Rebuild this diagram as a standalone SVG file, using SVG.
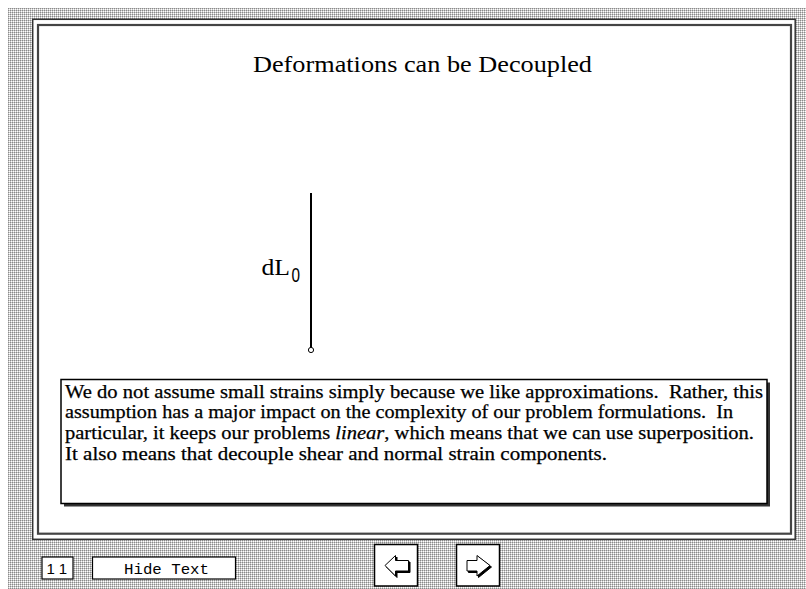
<svg xmlns="http://www.w3.org/2000/svg" width="806" height="589" viewBox="0 0 806 589">
  <defs>
    <pattern id="dots" x="0" y="0" width="2" height="2" patternUnits="userSpaceOnUse">
      <rect width="2" height="2" fill="#c8c8c8"/>
      <rect x="0" y="0" width="1" height="1" fill="#8a8a8a"/>
      <rect x="1" y="1" width="1" height="1" fill="#ffffff"/>
    </pattern>
    <style>
      .serif { font-family: "Liberation Serif", "Times New Roman", serif; fill: #000; }
      .body { font-size: 18px; stroke: #000; stroke-width: 0.25px; }
      .btn { fill: #fff; stroke: #000; stroke-width: 1.5; }
      .arrow { fill: #fff; stroke: #000; stroke-width: 1; stroke-linejoin: miter; }
      .arrowShadow { fill: #000; stroke: #000; stroke-width: 1; }
    </style>
  </defs>

  <rect x="0" y="0" width="806" height="589" fill="#fff"/>
  <rect x="8" y="8" width="798" height="581" fill="url(#dots)"/>

  <g id="frame">
    <rect x="32.7" y="19.3" width="762.5" height="520" fill="#fff" stroke="#333" stroke-width="1.5"/>
    <rect x="38" y="25" width="753" height="508.7" fill="#fff" stroke="#444" stroke-width="2.2"/>
  </g>

  <g id="title">
    <text class="serif" x="253" y="72" font-size="23" textLength="339" lengthAdjust="spacingAndGlyphs">Deformations can be Decoupled</text>
  </g>

  <g id="element">
    <line x1="311" y1="193" x2="311" y2="347.5" stroke="#000" stroke-width="2"/>
    <circle cx="311" cy="350" r="2.6" fill="#fff" stroke="#000" stroke-width="1"/>
  </g>

  <g id="label-dL0">
    <text class="serif" x="261.5" y="275" font-size="23" textLength="28.5" lengthAdjust="spacingAndGlyphs">dL</text>
    <text x="291.5" y="281.7" font-family="Liberation Sans, Arial, sans-serif" font-size="20" font-weight="normal" textLength="8.5" lengthAdjust="spacingAndGlyphs">0</text>
  </g>

  <g id="textbox">
    <rect x="64" y="382.5" width="706" height="124" fill="#333"/>
    <rect x="61" y="379.5" width="706" height="124" fill="#fff" stroke="#000" stroke-width="1.5"/>
    <text class="serif body" x="65" y="397.5" xml:space="preserve" textLength="698" lengthAdjust="spacingAndGlyphs">We do not assume small strains simply because we like approximations.  Rather, this</text>
    <text class="serif body" x="65" y="418.2" xml:space="preserve" textLength="668" lengthAdjust="spacingAndGlyphs">assumption has a major impact on the complexity of our problem formulations.  In</text>
    <text class="serif body" x="65" y="438.9" xml:space="preserve" textLength="689" lengthAdjust="spacingAndGlyphs">particular, it keeps our problems <tspan font-style="italic">linear</tspan>, which means that we can use superposition.</text>
    <text class="serif body" x="65" y="459.6" xml:space="preserve" textLength="542" lengthAdjust="spacingAndGlyphs">It also means that decouple shear and normal strain components.</text>
  </g>

  <g id="page-number">
    <rect x="42" y="557" width="31" height="22" fill="#fff" stroke="#000" stroke-width="1.2"/>
    <text x="46.5" y="574" font-family="Liberation Sans, Arial, sans-serif" font-size="15" textLength="20.5" lengthAdjust="spacing">11</text>
  </g>

  <g id="hide-text-button">
    <rect x="92.5" y="557" width="143" height="22" fill="#fff" stroke="#000" stroke-width="1.2"/>
    <text x="124" y="574" font-family="Liberation Mono, Courier New, monospace" font-size="15" textLength="85" lengthAdjust="spacingAndGlyphs">Hide Text</text>
  </g>

  <g id="prev-button">
    <rect class="btn" x="374.5" y="544.5" width="43" height="41.5"/>
    <polygon class="arrowShadow" points="386.5,567 397,557 397,562 410,562 410,572.5 397,572.5 397,577.5"/>
    <polygon class="arrow" points="385,565.5 395.5,555.5 395.5,560.5 408.5,560.5 408.5,571 395.5,571 395.5,576"/>
  </g>

  <g id="next-button">
    <rect class="btn" x="456.5" y="544.5" width="43" height="41.5"/>
    <polygon class="arrowShadow" points="468.5,562 478.5,562 478.5,557 491.5,567 478.5,577.5 478.5,572.5 468.5,572.5"/>
    <polygon class="arrow" points="467,560.5 477,560.5 477,555.5 490,565.5 477,576 477,571 467,571"/>
  </g>
</svg>
